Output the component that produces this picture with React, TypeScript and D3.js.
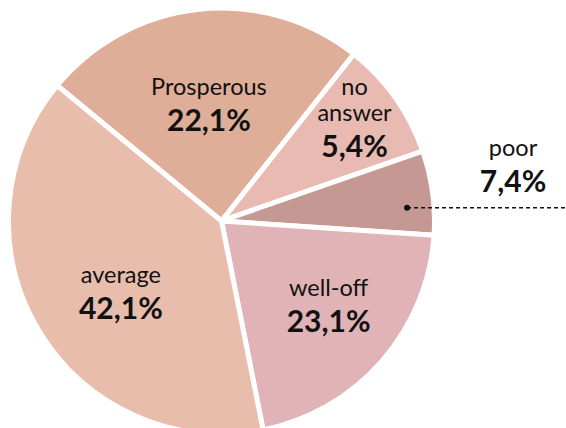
import React from 'react';
import * as d3 from 'd3';

// categories clockwise from the top-left, as in the reference
const categories = ['Prosperous', 'no answer', 'poor', 'well-off', 'average'];
// printed percentages
const labelValues = ['22,1%', '5,4%', '7,4%', '23,1%', '42,1%'];
// slice sizes as actually drawn in the reference (read from the angles, not from the labels)
const sliceShares = [24.7, 9.0, 6.4, 20.8, 39.1];
const colors = ['#deae98', '#e8bab2', '#c59893', '#e0b4b7', '#e8bdac'];

const W = 566;
const H = 428;
const cx = 221.5;
const cy = 221;
const R = 213;
const startDeg = -50.5;

// label anchor: radius from center and small angle nudge (deg) per slice
const labelLayout = [
  { r: 112, shift: -0.4 },
  { r: 164, shift: -0.4 },
  { r: 186, shift: 3.6 },
  { r: 140, shift: -1.2 },
  { r: 127, shift: -6.7 },
];

const toRad = (d: number) => (d * Math.PI) / 180;

export default function App() {
  const pie = d3
    .pie<number>()
    .sort(null)
    .value((d) => d)
    .startAngle(toRad(startDeg))
    .endAngle(toRad(startDeg + 360));
  const arcs = pie(sliceShares);
  const arc = d3.arc<d3.PieArcDatum<number>>().innerRadius(0).outerRadius(R);

  const anchor = (i: number) => {
    const a = arcs[i];
    const mid = (a.startAngle + a.endAngle) / 2 + toRad(labelLayout[i].shift);
    const r = labelLayout[i].r;
    return [cx + r * Math.sin(mid), cy - r * Math.cos(mid)];
  };

  const font = "Lato, 'Noto Sans', sans-serif";
  const nameSize = 23.5;
  const valueSize = 30;

  return (
    <div style={{ position: 'absolute', left: 0, top: 0 }}>
      <svg width={W} height={H} style={{ display: 'block' }}>
        <rect width={W} height={H} fill="#fff" />
        <g transform={`translate(${cx},${cy})`}>
          {arcs.map((a, i) => (
            <path
              key={categories[i]}
              d={arc(a) || ''}
              fill={colors[i]}
              stroke="#fff"
              strokeWidth={5}
              strokeLinejoin="round"
            />
          ))}
        </g>
        <g fontFamily={font} fill="#111" textAnchor="middle">
          {categories.map((c, i) => {
            const [x, y] = anchor(i);
            if (c === 'poor') {
              return (
                <g key={c}>
                  <circle cx={x} cy={y} r={3} fill="#111" />
                  <line
                    x1={x}
                    x2={W}
                    y1={y}
                    y2={y}
                    stroke="#111"
                    strokeWidth={1.5}
                    strokeDasharray="4,3"
                  />
                  <text x={x + 106} y={y - 52} fontSize={nameSize}>
                    {c}
                  </text>
                  <text x={x + 106} y={y - 16} fontSize={valueSize} fontWeight={700}>
                    {labelValues[i]}
                  </text>
                </g>
              );
            }
            if (c === 'no answer') {
              return (
                <g key={c}>
                  <text x={x} y={y - 30} fontSize={nameSize}>no</text>
                  <text x={x} y={y - 4} fontSize={nameSize}>answer</text>
                  <text x={x} y={y + 32} fontSize={valueSize} fontWeight={700}>
                    {labelValues[i]}
                  </text>
                </g>
              );
            }
            return (
              <g key={c}>
                <text x={x} y={y - 15} fontSize={nameSize}>
                  {c}
                </text>
                <text x={x} y={y + 21} fontSize={valueSize} fontWeight={700}>
                  {labelValues[i]}
                </text>
              </g>
            );
          })}
        </g>
      </svg>
    </div>
  );
}
